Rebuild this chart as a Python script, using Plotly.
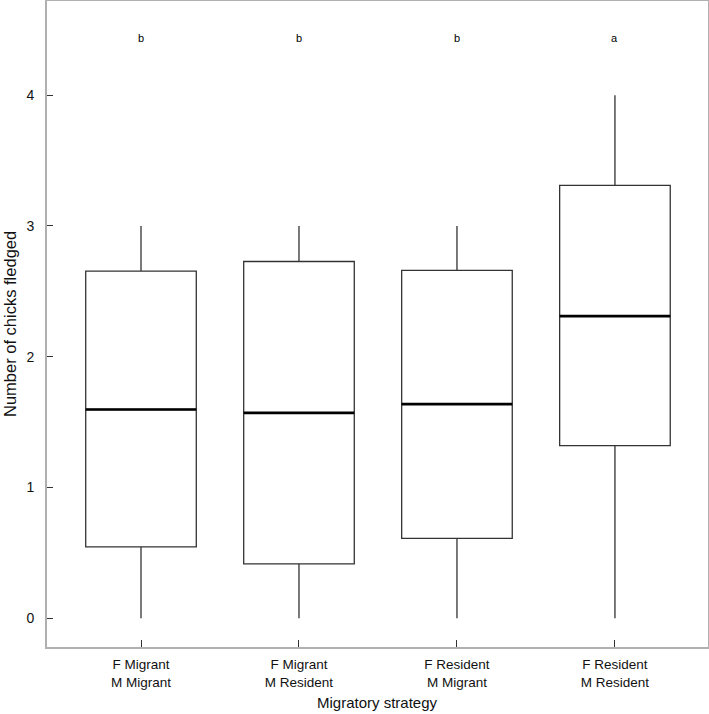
import plotly.graph_objects as go

categories = ["F Migrant<br>M Migrant", "F Migrant<br>M Resident",
              "F Resident<br>M Migrant", "F Resident<br>M Resident"]
positions = [1, 2, 3, 4]
lower_whisker = [0, 0, 0, 0]
q1_vals = [0.545, 0.415, 0.61, 1.32]
median_vals = [1.596, 1.570, 1.637, 2.31]
q3_vals = [2.654, 2.728, 2.66, 3.31]
upper_whisker = [3, 3, 3, 4]
letters = ["b", "b", "b", "a"]
letter_y = 4.44
box_width = 0.70

FONT = "Liberation Sans, Arial, sans-serif"

fig = go.Figure()
fig.add_trace(go.Box(
    x=positions,
    q1=q1_vals, median=median_vals, q3=q3_vals,
    lowerfence=lower_whisker, upperfence=upper_whisker,
    width=box_width, whiskerwidth=0,
    fillcolor="white",
    line=dict(color="#333333", width=1.3),
    boxpoints=False, showlegend=False, hoverinfo="skip",
))

# thick median lines
for p, m in zip(positions, median_vals):
    fig.add_trace(go.Scatter(
        x=[p - box_width / 2, p + box_width / 2], y=[m, m],
        mode="lines", line=dict(color="black", width=2.6),
        showlegend=False, hoverinfo="skip",
    ))

for p, t in zip(positions, letters):
    fig.add_annotation(x=p, y=letter_y, text=t, showarrow=False,
                       font=dict(family=FONT, size=11, color="black"))

# axis titles
fig.add_annotation(xref="paper", yref="paper", x=0.5, y=0, yshift=-55,
                   xanchor="center", yanchor="middle",
                   text="Migratory strategy", showarrow=False,
                   font=dict(family=FONT, size=15, color="#111"))
fig.add_annotation(xref="paper", yref="paper", x=0, y=0.5, xshift=-37,
                   xanchor="center", yanchor="middle",
                   text="Number of chicks fledged", showarrow=False, textangle=-90,
                   font=dict(family=FONT, size=16.5, color="#111"))

fig.update_layout(
    width=709, height=714,
    margin=dict(l=47, r=1, t=1, b=67),
    plot_bgcolor="white", paper_bgcolor="white",
    font=dict(family=FONT, size=13, color="#111"),
)
fig.update_xaxes(
    range=[0.405, 4.589], tickvals=positions, ticktext=categories,
    showgrid=False, zeroline=False, automargin=False,
    showline=True, mirror=True, linecolor="#b0b0b0", linewidth=2,
    ticks="inside", ticklen=7, tickcolor="#333", tickwidth=1,
    ticklabelstandoff=4,
    tickfont=dict(size=13.5),
)
fig.update_yaxes(
    range=[-0.22, 4.72], tickvals=[0, 1, 2, 3, 4],
    showgrid=False, zeroline=False, automargin=False,
    showline=True, mirror=True, linecolor="#b0b0b0", linewidth=2,
    ticks="inside", ticklen=6, tickcolor="#333", tickwidth=1,
    ticklabelstandoff=8,
    tickfont=dict(size=14),
)

fig.write_html("out.html",
               config={"displayModeBar": False},
               post_script="document.body.style.margin='0';document.body.style.overflow='hidden';")
